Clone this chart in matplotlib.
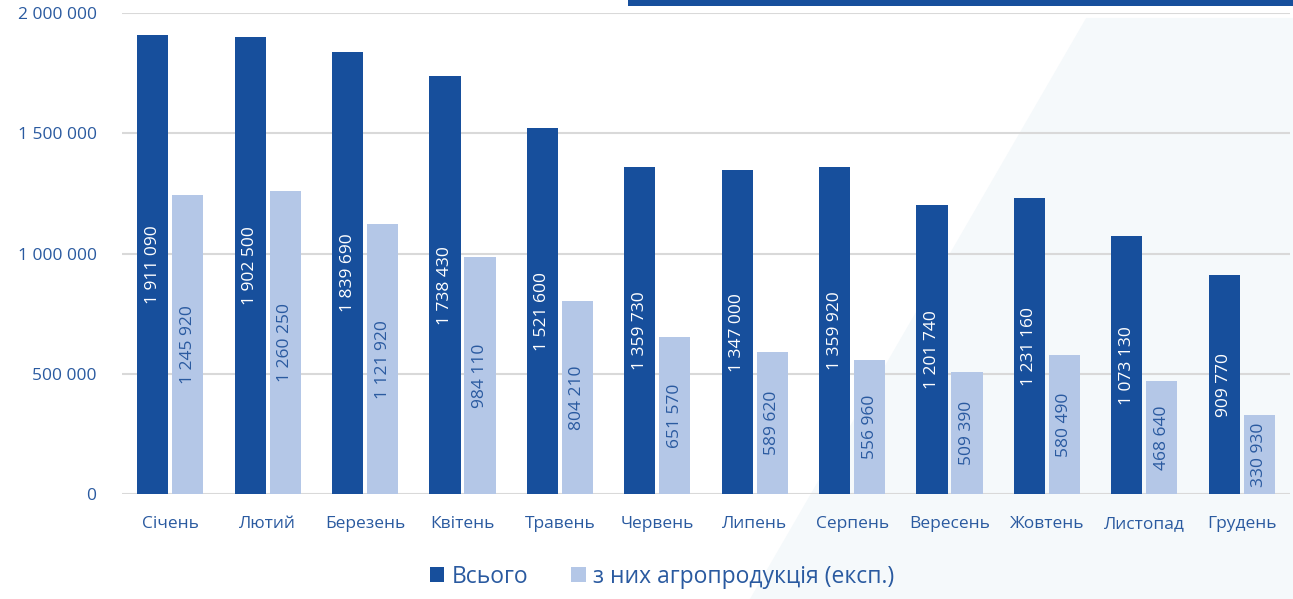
import matplotlib
matplotlib.use("Agg")
import matplotlib.pyplot as plt
from matplotlib.patches import Rectangle, Polygon
import numpy as np

months = ["Січень", "Лютий", "Березень", "Квітень", "Травень", "Червень",
          "Липень", "Серпень", "Вересень", "Жовтень", "Листопад", "Грудень"]
total = [1911090, 1902500, 1839690, 1738430, 1521600, 1359730,
         1347000, 1359920, 1201740, 1231160, 1073130, 909770]
agro = [1245920, 1260250, 1121920, 984110, 804210, 651570,
        589620, 556960, 509390, 580490, 468640, 330930]
series_names = ["Всього", "з них агропродукція (експ.)"]
yticks = [0, 500000, 1000000, 1500000, 2000000]

dark = "#174f9c"
light = "#b4c7e7"
txt = "#2a5aa0"

plt.rcParams['font.family'] = ['Open Sans', 'DejaVu Sans']

fig = plt.figure(figsize=(12.93, 5.99), dpi=100)
# background decoration
fig.patches.append(Polygon([[0.58, 0], [0.84, 0.97], [1, 0.97], [1, 0]],
                           closed=True, transform=fig.transFigure,
                           facecolor="#f5f9fb", edgecolor="none", zorder=-5))
fig.patches.append(Rectangle((0.486, 0.99), 0.514, 0.02, transform=fig.transFigure,
                             facecolor=dark, edgecolor="none", zorder=1))

ax = fig.add_axes([0.094, 0.175, 0.904, 0.803])
ax.patch.set_alpha(0)
x = np.arange(len(months))
w = 0.32
gap = 0.04
b1 = ax.bar(x - (w + gap) / 2, total, w, color=dark, zorder=3)
b2 = ax.bar(x + (w + gap) / 2, agro, w, color=light, zorder=3)

def fmt(v):
    return f"{v:,}".replace(",", " ")

for xi, v in zip(x, total):
    ax.text(xi - (w + gap) / 2, v / 2, fmt(v), rotation=90, ha="center", va="center",
            color="white", fontsize=12.5, zorder=4)
for xi, v in zip(x, agro):
    ax.text(xi + (w + gap) / 2, v / 2, fmt(v), rotation=90, ha="center", va="center",
            color=txt, fontsize=12.5, zorder=4)

ax.set_ylim(0, 2000000)
ax.set_xlim(-0.5, len(months) - 0.5)
ax.set_yticks(yticks)
ax.set_yticklabels([fmt(t) for t in yticks], color=txt, fontsize=12.5)
ax.set_xticks(x)
ax.set_xticklabels(months, color=txt, fontsize=12.5)
ax.tick_params(length=0)
ax.tick_params(axis="x", pad=16)
ax.tick_params(axis="y", pad=18)
ax.grid(axis="y", color="#d9d9d9", linewidth=1.5, zorder=0)
for s in ax.spines.values():
    s.set_visible(False)

leg = fig.legend([b1, b2], series_names, loc="center", bbox_to_anchor=(0.512, 0.037),
                 ncol=2, frameon=False, fontsize=16.5, handlelength=0.65, handleheight=0.65,
                 handletextpad=0.3, columnspacing=1.9)
for t in leg.get_texts():
    t.set_color(txt)

fig.savefig("out.png", dpi=100)
